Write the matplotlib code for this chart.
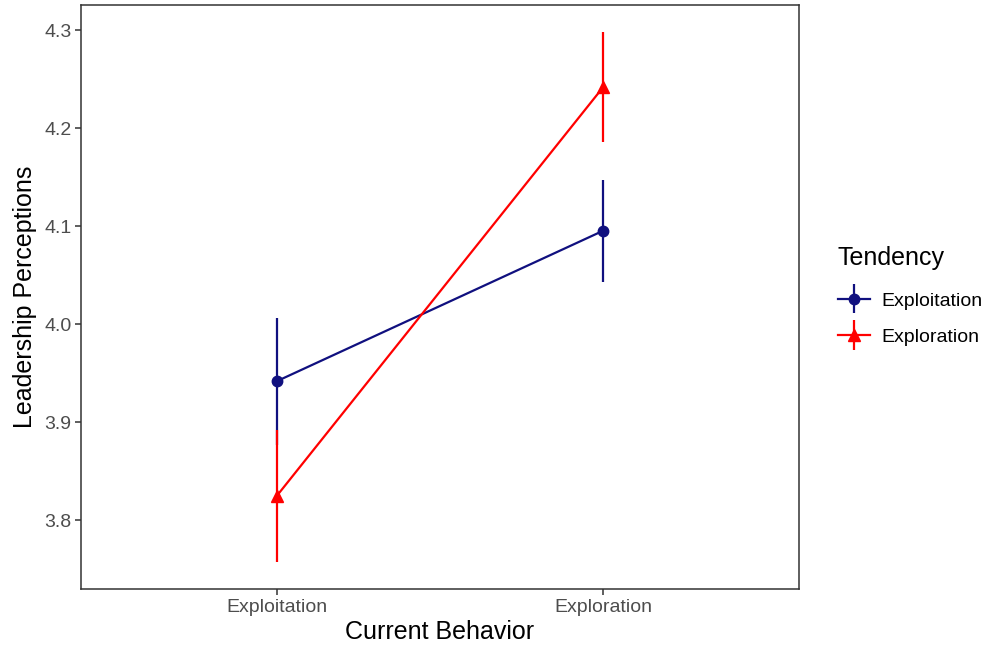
import matplotlib
matplotlib.use("Agg")
import matplotlib.pyplot as plt
from matplotlib.legend_handler import HandlerErrorbar
from matplotlib.container import ErrorbarContainer
import numpy as np

# Cell means and standard errors of leadership perceptions
current_behavior = ["Exploitation", "Exploration"]
tendency = ["Exploitation", "Exploration"]
means_exploitation = [3.942, 4.0955]
se_exploitation = [0.065, 0.052]
means_exploration = [3.825, 4.242]
se_exploration = [0.067, 0.056]

colors = ["#10107F", "#FF0000"]
markers = ["o", "^"]
marker_sizes = [7.5, 8.5]

plt.rcParams["font.family"] = ["Liberation Sans", "DejaVu Sans"]

fig = plt.figure(figsize=(9.9, 6.53), dpi=100)
ax = fig.add_axes([0.0818, 0.098, 0.7252, 0.8943])

x = np.arange(len(current_behavior))
series = [(means_exploitation, se_exploitation), (means_exploration, se_exploration)]
for (m, se), c, mk, ms, lab in zip(series, colors, markers, marker_sizes, tendency):
    ax.errorbar(x, m, yerr=se, fmt="-" + mk, color=c, ecolor=c, elinewidth=1.6,
                lw=1.6, markersize=ms, capsize=0, label=lab)

ax.set_xlim(-0.6, 1.6)
ax.set_ylim(3.73, 4.3258)
ax.set_xticks(x)
ax.set_xticklabels(current_behavior)
ax.set_yticks([3.8, 3.9, 4.0, 4.1, 4.2, 4.3])
ax.set_yticklabels(["3.8", "3.9", "4.0", "4.1", "4.2", "4.3"])

ax.tick_params(axis="both", colors="#333333", labelcolor="#4D4D4D",
               labelsize=14, length=4, width=1.1, pad=3)
for sp in ax.spines.values():
    sp.set_color("#333333")
    sp.set_linewidth(1.1)

ax.set_xlabel("Current Behavior", fontsize=18, color="black", labelpad=3)
ax.set_ylabel("Leadership Perceptions", fontsize=18, color="black", labelpad=5)

handles, labels = ax.get_legend_handles_labels()
leg = fig.legend(handles, labels, title="Tendency",
                 loc="center left", bbox_to_anchor=(0.846, 0.547),
                 frameon=False, fontsize=14, title_fontsize=18,
                 handlelength=1.65, handletextpad=0.6, labelspacing=0.95,
                 borderaxespad=0, borderpad=0,
                 handler_map={ErrorbarContainer: HandlerErrorbar(xerr_size=0.5, yerr_size=0.75)})
leg._legend_box.align = "left"
leg._legend_box.sep = 16

fig.savefig("out.png", dpi=100)
